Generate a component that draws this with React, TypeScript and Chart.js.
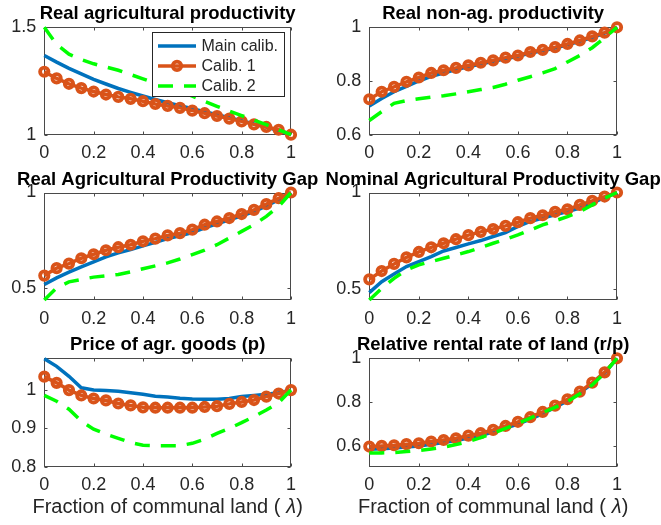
import React, { useEffect, useRef } from 'react';
import { Chart, registerables } from 'chart.js';

Chart.register(...registerables);

// ---------------- data ----------------
const LAMBDA = [0, 0.05, 0.1, 0.15, 0.2, 0.25, 0.3, 0.35, 0.4, 0.45, 0.5, 0.55, 0.6, 0.65, 0.7, 0.75, 0.8, 0.85, 0.9, 0.95, 1];

const SERIES_LABELS = ['Main calib.', 'Calib. 1', 'Calib. 2'];

const TITLES = [
  'Real agricultural productivity',
  'Real non-ag. productivity',
  'Real Agricultural Productivity Gap',
  'Nominal Agricultural Productivity Gap',
  'Price of agr. goods (p)',
  'Relative rental rate of land (r/p)',
];

const X_LABEL_PARTS = ['Fraction of communal land (', 'λ', ')'];

const X_TICKS = [0, 0.2, 0.4, 0.6, 0.8, 1];
const X_TICK_LABELS = ['0', '0.2', '0.4', '0.6', '0.8', '1'];

// Real agricultural productivity
const AG_MAIN = [1.369, 1.338, 1.309, 1.283, 1.258, 1.236, 1.215, 1.197, 1.180, 1.164, 1.149, 1.135, 1.121, 1.107, 1.093, 1.079, 1.065, 1.050, 1.036, 1.019, 1.000];
const AG_C1 = [1.293, 1.262, 1.237, 1.217, 1.201, 1.187, 1.176, 1.167, 1.156, 1.143, 1.134, 1.125, 1.112, 1.100, 1.087, 1.075, 1.062, 1.048, 1.036, 1.023, 1.000];
const AG_C2 = [1.500, 1.420, 1.375, 1.350, 1.330, 1.315, 1.300, 1.280, 1.260, 1.240, 1.220, 1.200, 1.180, 1.155, 1.132, 1.110, 1.089, 1.068, 1.047, 1.023, 1.000];
const AG_Y_TICKS = [1, 1.5];
const AG_Y_LABELS = ['1', '1.5'];

// Real non-ag. productivity
const NA_MAIN = [0.707, 0.735, 0.760, 0.780, 0.800, 0.817, 0.830, 0.843, 0.853, 0.863, 0.873, 0.883, 0.892, 0.904, 0.913, 0.923, 0.935, 0.948, 0.962, 0.978, 1.000];
const NA_C1 = [0.732, 0.760, 0.778, 0.797, 0.813, 0.830, 0.840, 0.849, 0.858, 0.868, 0.877, 0.887, 0.895, 0.908, 0.916, 0.926, 0.938, 0.951, 0.966, 0.980, 1.000];
const NA_C2 = [0.653, 0.686, 0.717, 0.727, 0.734, 0.740, 0.745, 0.752, 0.760, 0.768, 0.776, 0.788, 0.803, 0.816, 0.830, 0.846, 0.871, 0.895, 0.924, 0.961, 1.000];
const NA_Y_TICKS = [0.6, 0.8, 1];
const NA_Y_LABELS = ['0.6', '0.8', '1'];

// Real agricultural productivity gap
const RG_MAIN = [0.517, 0.552, 0.582, 0.610, 0.636, 0.662, 0.683, 0.700, 0.720, 0.738, 0.758, 0.773, 0.790, 0.815, 0.835, 0.857, 0.878, 0.900, 0.930, 0.962, 1.000];
const RG_C1 = [0.564, 0.603, 0.627, 0.655, 0.676, 0.697, 0.713, 0.726, 0.744, 0.758, 0.775, 0.787, 0.805, 0.831, 0.848, 0.866, 0.887, 0.909, 0.939, 0.970, 1.000];
const RG_C2 = [0.436, 0.500, 0.531, 0.544, 0.556, 0.563, 0.570, 0.584, 0.600, 0.615, 0.631, 0.651, 0.674, 0.698, 0.726, 0.761, 0.796, 0.831, 0.875, 0.927, 1.000];
const RG_Y_TICKS = [0.5, 1];
const RG_Y_LABELS = ['0.5', '1'];

// Nominal agricultural productivity gap
const NG_MAIN = [0.481, 0.538, 0.578, 0.616, 0.642, 0.668, 0.697, 0.715, 0.734, 0.751, 0.772, 0.792, 0.824, 0.850, 0.867, 0.884, 0.901, 0.919, 0.945, 0.974, 1.000];
const NG_C1 = [0.550, 0.593, 0.630, 0.664, 0.692, 0.716, 0.737, 0.758, 0.779, 0.796, 0.811, 0.827, 0.846, 0.867, 0.882, 0.900, 0.913, 0.936, 0.957, 0.979, 1.000];
const NG_C2 = [0.443, 0.503, 0.555, 0.599, 0.625, 0.642, 0.659, 0.676, 0.694, 0.715, 0.737, 0.758, 0.780, 0.806, 0.832, 0.853, 0.875, 0.900, 0.936, 0.971, 1.000];
const NG_Y_TICKS = [0.5, 1];
const NG_Y_LABELS = ['0.5', '1'];

// Price of agricultural goods
const PR_MAIN = [1.082, 1.062, 1.036, 1.006, 1.000, 0.999, 0.997, 0.993, 0.989, 0.984, 0.982, 0.979, 0.977, 0.976, 0.976, 0.978, 0.983, 0.986, 0.989, 0.993, 1.000];
const PR_C1 = [1.035, 1.019, 1.000, 0.986, 0.978, 0.973, 0.965, 0.960, 0.955, 0.954, 0.954, 0.954, 0.954, 0.956, 0.958, 0.964, 0.969, 0.974, 0.983, 0.991, 1.000];
const PR_C2 = [0.986, 0.971, 0.950, 0.919, 0.898, 0.885, 0.874, 0.863, 0.856, 0.855, 0.855, 0.855, 0.861, 0.872, 0.887, 0.900, 0.915, 0.931, 0.948, 0.967, 1.000];
const PR_Y_TICKS = [0.8, 0.9, 1];
const PR_Y_LABELS = ['0.8', '0.9', '1'];

// Relative rental rate of land
const RR_MAIN = [0.585, 0.587, 0.590, 0.595, 0.600, 0.607, 0.615, 0.624, 0.636, 0.648, 0.663, 0.681, 0.700, 0.722, 0.747, 0.776, 0.806, 0.842, 0.884, 0.932, 1.000];
const RR_C1 = [0.597, 0.600, 0.603, 0.608, 0.612, 0.620, 0.627, 0.635, 0.647, 0.658, 0.673, 0.691, 0.710, 0.731, 0.755, 0.784, 0.813, 0.848, 0.889, 0.936, 1.000];
const RR_C2 = [0.567, 0.568, 0.570, 0.574, 0.579, 0.586, 0.594, 0.606, 0.620, 0.638, 0.658, 0.680, 0.703, 0.727, 0.752, 0.776, 0.802, 0.838, 0.878, 0.933, 1.000];
const RR_Y_TICKS = [0.6, 0.8, 1];
const RR_Y_LABELS = ['0.6', '0.8', '1'];

// ---------------- layout / style ----------------
const FONT = "'Liberation Sans', Arial, Helvetica, sans-serif";
const AXIS_COLOR = '#262626';
const BOX_COLOR = '#4a4a4a';
const BLUE = '#0072BD';
const ORANGE = '#D95319';
const GREEN = '#00FF00';
const Y_AXIS_W = 36;
const X_AXIS_H = 30;
const TICK_FONT = 18;

const COLS = [
  { canvasLeft: 0, width: 330, plotLeft: 44.3, plotRight: 291 },
  { canvasLeft: 320, width: 341, plotLeft: 369.3, plotRight: 617 },
];
const ROWS = [
  { canvasTop: 0, height: 165, plotTop: 27.3, plotBottom: 134.7 },
  { canvasTop: 162, height: 168, plotTop: 192.5, plotBottom: 300 },
  { canvasTop: 328, height: 197, plotTop: 358.3, plotBottom: 466.7 },
];

const PANELS = [
  { row: 0, col: 0, title: TITLES[0], main: AG_MAIN, c1: AG_C1, c2: AG_C2, yMin: 1, yMax: 1.5, yTicks: AG_Y_TICKS, yLabels: AG_Y_LABELS, legend: true, xTitle: false },
  { row: 0, col: 1, title: TITLES[1], main: NA_MAIN, c1: NA_C1, c2: NA_C2, yMin: 0.6, yMax: 1, yTicks: NA_Y_TICKS, yLabels: NA_Y_LABELS, legend: false, xTitle: false },
  { row: 1, col: 0, title: TITLES[2], main: RG_MAIN, c1: RG_C1, c2: RG_C2, yMin: 0.436, yMax: 1, yTicks: RG_Y_TICKS, yLabels: RG_Y_LABELS, legend: false, xTitle: false },
  { row: 1, col: 1, title: TITLES[3], main: NG_MAIN, c1: NG_C1, c2: NG_C2, yMin: 0.443, yMax: 1, yTicks: NG_Y_TICKS, yLabels: NG_Y_LABELS, legend: false, xTitle: false },
  { row: 2, col: 0, title: TITLES[4], main: PR_MAIN, c1: PR_C1, c2: PR_C2, yMin: 0.8, yMax: 1.083, yTicks: PR_Y_TICKS, yLabels: PR_Y_LABELS, legend: false, xTitle: true },
  { row: 2, col: 1, title: TITLES[5], main: RR_MAIN, c1: RR_C1, c2: RR_C2, yMin: 0.505, yMax: 1, yTicks: RR_Y_TICKS, yLabels: RR_Y_LABELS, legend: false, xTitle: true },
];

// ---------------- plugins ----------------
const matlabPlugin = {
  id: 'matlab',
  beforeDatasetsDraw(chart: any) {
    const { ctx, chartArea: a, scales } = chart;
    ctx.save();
    ctx.strokeStyle = BOX_COLOR;
    ctx.lineWidth = 1;
    const L = Math.round(a.left) + 0.5;
    const R = Math.round(a.right) - 0.5;
    const T = Math.round(a.top) + 0.5;
    const B = Math.round(a.bottom) - 0.5;
    ctx.strokeRect(L, T, R - L, B - T);
    const tl = 3;
    ctx.beginPath();
    scales.x.ticks.forEach((t: any) => {
      const px = Math.round(scales.x.getPixelForValue(t.value)) + 0.5;
      ctx.moveTo(px, B); ctx.lineTo(px, B - tl);
      ctx.moveTo(px, T); ctx.lineTo(px, T + tl);
    });
    scales.y.ticks.forEach((t: any) => {
      const py = Math.round(scales.y.getPixelForValue(t.value)) + 0.5;
      ctx.moveTo(L, py); ctx.lineTo(L + tl, py);
      ctx.moveTo(R, py); ctx.lineTo(R - tl, py);
    });
    ctx.stroke();
    ctx.restore();
  },
  afterDraw(chart: any, _args: any, opts: any) {
    const { ctx, chartArea: a } = chart;
    ctx.save();
    // title
    ctx.fillStyle = '#000';
    ctx.font = `bold 18.5px ${FONT}`;
    ctx.textAlign = 'center';
    ctx.textBaseline = 'alphabetic';
    ctx.fillText(opts.title, (a.left + a.right) / 2, a.top - 8);

    // x label
    if (opts.xTitle) {
      const normal = `20px ${FONT}`;
      const italic = `italic 20px ${FONT}`;
      ctx.font = normal;
      const w1 = ctx.measureText(X_LABEL_PARTS[0]).width;
      const w3 = ctx.measureText(X_LABEL_PARTS[2]).width;
      ctx.font = italic;
      const w2 = ctx.measureText(X_LABEL_PARTS[1]).width;
      const gap = 6;
      const total = w1 + gap + w2 + w3;
      let x = (a.left + a.right) / 2 - total / 2;
      const y = a.bottom + 46.5;
      ctx.fillStyle = AXIS_COLOR;
      ctx.textAlign = 'left';
      ctx.font = normal;
      ctx.fillText(X_LABEL_PARTS[0], x, y);
      x += w1 + gap;
      ctx.font = italic;
      ctx.fillText(X_LABEL_PARTS[1], x, y);
      x += w2;
      ctx.font = normal;
      ctx.fillText(X_LABEL_PARTS[2], x, y);
    }

    // legend
    if (opts.legend) {
      const bw = 131.6;
      const bh = 64.4;
      const bx = Math.round(a.right - 7.7 - bw) + 0.5;
      const by = Math.round(a.top + 5) + 0.5;
      ctx.fillStyle = '#fff';
      ctx.fillRect(bx, by, bw, bh);
      ctx.strokeStyle = AXIS_COLOR;
      ctx.lineWidth = 1;
      ctx.strokeRect(bx, by, Math.round(bw), Math.round(bh));
      ctx.font = `16px ${FONT}`;
      ctx.textAlign = 'left';
      ctx.textBaseline = 'middle';
      chart.data.datasets.forEach((ds: any, i: number) => {
        const cy = by + 13.4 + i * 20;
        const x0 = bx + 5.5;
        const x1 = bx + 43.5;
        ctx.save();
        ctx.strokeStyle = ds.borderColor;
        ctx.lineWidth = ds.borderWidth;
        if (ds.borderDash) ctx.setLineDash(ds.borderDash);
        ctx.beginPath();
        ctx.moveTo(x0, cy); ctx.lineTo(x1, cy);
        ctx.stroke();
        ctx.setLineDash([]);
        if (ds.pointRadius > 0) {
          ctx.lineWidth = ds.pointBorderWidth;
          ctx.beginPath();
          ctx.arc((x0 + x1) / 2, cy, ds.pointRadius, 0, Math.PI * 2);
          ctx.stroke();
        }
        ctx.restore();
        ctx.fillStyle = AXIS_COLOR;
        ctx.fillText(ds.label, bx + 49, cy + 1);
      });
    }
    ctx.restore();
  },
};

function toPoints(ys: number[]) {
  return LAMBDA.map((x, i) => ({ x, y: ys[i] }));
}

function Panel({ p }: { p: any }) {
  const ref = useRef<HTMLCanvasElement>(null);
  const col = COLS[p.col];
  const row = ROWS[p.row];
  useEffect(() => {
    const padding = {
      left: col.plotLeft - col.canvasLeft - Y_AXIS_W,
      right: col.canvasLeft + col.width - col.plotRight,
      top: row.plotTop - row.canvasTop,
      bottom: row.canvasTop + row.height - row.plotBottom - X_AXIS_H,
    };
    const chart = new Chart(ref.current as HTMLCanvasElement, {
      type: 'line',
      data: {
        datasets: [
          {
            label: SERIES_LABELS[0], data: toPoints(p.main), borderColor: BLUE, borderWidth: 3.5,
            pointRadius: 0, order: 3, clip: false as any, tension: 0,
          },
          {
            label: SERIES_LABELS[1], data: toPoints(p.c1), borderColor: ORANGE, borderWidth: 3.5,
            pointRadius: 4.2, pointBorderWidth: 3.8, pointBorderColor: ORANGE,
            pointBackgroundColor: 'rgba(0,0,0,0)', order: 2, clip: false as any, tension: 0,
          },
          {
            label: SERIES_LABELS[2], data: toPoints(p.c2), borderColor: GREEN, borderWidth: 3.5,
            borderDash: [15, 11], pointRadius: 0, order: 1, clip: false as any, tension: 0,
          },
        ] as any,
      },
      options: {
        responsive: false,
        animation: false,
        events: [],
        devicePixelRatio: 1,
        layout: { padding },
        scales: {
          x: {
            type: 'linear', position: 'bottom', min: 0, max: 1,
            afterBuildTicks: (s: any) => { s.ticks = X_TICKS.map((v) => ({ value: v })); },
            afterFit: (s: any) => { s.height = X_AXIS_H; },
            grid: { display: false, drawTicks: false },
            border: { display: false },
            ticks: {
              color: AXIS_COLOR, padding: 8, maxRotation: 0, autoSkip: false,
              font: { family: FONT, size: TICK_FONT },
              callback: (_v: any, i: number) => X_TICK_LABELS[i],
            },
          },
          y: {
            type: 'linear', position: 'left', min: p.yMin, max: p.yMax,
            afterBuildTicks: (s: any) => { s.ticks = p.yTicks.map((v: number) => ({ value: v })); },
            afterFit: (s: any) => { s.width = Y_AXIS_W; },
            grid: { display: false, drawTicks: false },
            border: { display: false },
            ticks: {
              color: AXIS_COLOR, padding: 8, autoSkip: false,
              font: { family: FONT, size: TICK_FONT },
              callback: (_v: any, i: number) => p.yLabels[i],
            },
          },
        },
        plugins: {
          legend: { display: false },
          tooltip: { enabled: false },
          title: { display: false },
          matlab: { title: p.title, legend: p.legend, xTitle: p.xTitle },
        } as any,
      },
      plugins: [matlabPlugin],
    });
    return () => chart.destroy();
  }, []);
  return (
    <canvas
      ref={ref}
      width={col.width}
      height={row.height}
      style={{ position: 'absolute', left: col.canvasLeft, top: row.canvasTop, width: col.width, height: row.height }}
    />
  );
}

export default function App() {
  return (
    <div style={{ position: 'absolute', left: 0, top: 0, width: 661, height: 525, background: '#fff', overflow: 'hidden' }}>
      {PANELS.map((p, i) => (
        <Panel key={i} p={p} />
      ))}
    </div>
  );
}
